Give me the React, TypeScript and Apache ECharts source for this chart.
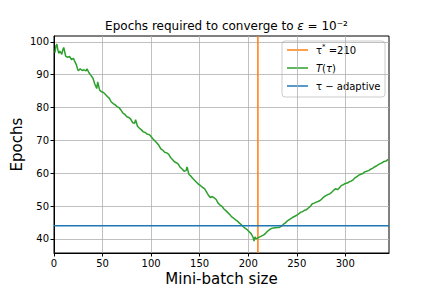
import React, { useEffect, useRef } from "react";
import * as echarts from "echarts";

const tau: number[] = [
  1, 2, 3, 4, 5, 6, 7, 8, 9, 10, 11, 12, 14, 16, 18, 20, 21, 23, 24, 25, 27, 29, 31, 33, 34, 36, 38, 40, 42, 44, 45, 47, 49,
  51, 53, 55, 57, 59, 61, 63, 65, 67, 69, 71, 73, 75, 77, 79, 81, 83, 84, 86, 88, 90, 92, 94, 96, 98, 100,
  102, 104, 106, 108, 110, 112, 114, 116, 118, 120, 122, 124, 126, 128, 130, 132, 134, 136, 137, 139, 141, 143, 145, 147, 149,
  151, 153, 155, 157, 159, 161, 163, 165, 167, 169, 171, 173, 175, 177, 179, 181, 183, 185, 187, 189, 191, 193, 195, 197, 199,
  201, 203, 205, 206, 207, 208, 210, 212, 214, 216, 218, 220, 222, 224, 226, 228, 230, 232, 234, 236, 238, 240, 242, 244, 246, 248,
  250, 252, 254, 256, 258, 260, 262, 264, 266, 268, 270, 272, 274, 276, 278, 280, 282, 284, 286, 288, 290, 292, 294, 296, 298,
  300, 302, 304, 306, 308, 310, 312, 314, 316, 318, 320, 322, 324, 326, 328, 330, 332, 334, 336, 338, 340, 342, 344,
];
const epochs: number[] = [
  96.7, 98.8, 99.3, 97.5, 96.5, 97.2, 96.8, 96.2, 97.5, 98.3, 97.0, 95.7, 95.3, 95.6, 94.6, 95.0, 94.3, 93.1, 92.0, 91.2, 91.8, 91.3, 91.5, 91.2, 91.8, 90.6, 89.8, 89.0, 87.2, 85.8, 87.8, 85.3, 84.8,
  84.6, 84.0, 83.4, 82.8, 81.7, 81.2, 80.8, 80.3, 80.0, 79.2, 78.3, 77.9, 77.2, 77.0, 76.5, 75.4, 75.2, 76.3, 74.3, 73.7, 73.2, 72.6, 72.4, 71.9, 71.8, 71.2,
  70.4, 69.8, 69.2, 68.5, 67.4, 67.0, 66.4, 66.2, 65.8, 64.8, 64.2, 63.5, 63.2, 62.8, 61.8, 61.3, 60.6, 60.8, 61.9, 59.6, 59.1, 58.4, 57.8, 57.2, 56.6,
  56.2, 55.7, 55.3, 54.3, 53.3, 52.6, 52.9, 52.5, 52.0, 50.9, 50.3, 49.9, 49.1, 48.6, 48.0, 47.4, 46.7, 46.3, 45.8, 45.4, 44.8, 44.3, 43.7, 43.2, 42.8,
  42.2, 41.6, 40.5, 39.3, 40.6, 40.0, 40.3, 40.6, 40.9, 41.2, 41.7, 42.4, 42.8, 43.2, 43.3, 43.4, 43.5, 43.5, 43.8, 44.4, 44.8, 45.4, 45.8, 46.2, 46.6, 46.9,
  47.2, 47.6, 48.1, 48.3, 48.7, 48.9, 49.4, 49.9, 50.7, 50.9, 51.2, 51.4, 51.7, 52.2, 52.8, 53.2, 53.5, 53.7, 54.2, 54.8, 55.3, 55.0, 55.6, 56.3, 56.5,
  56.9, 57.0, 57.4, 57.6, 58.0, 58.6, 59.0, 59.4, 59.7, 59.9, 60.4, 60.6, 60.8, 61.2, 61.5, 61.9, 62.2, 62.6, 62.9, 63.2, 63.6, 63.7, 64.2,
];
const tauStar = 210;
const adaptiveEpochs = 44;
const xTicks: number[] = [0, 50, 100, 150, 200, 250, 300];
const yTicks: number[] = [40, 50, 60, 70, 80, 90, 100];
const xRange: number[] = [0, 345];
const yRange: number[] = [35.7, 101.8];

const FONT = "DejaVu Sans";
const ORANGE = "#ff7f0e";
const GREEN = "#2ca02c";
const BLUE = "#1f77b4";

export default function App() {
  const ref = useRef<HTMLDivElement>(null);
  useEffect(() => {
    if (!ref.current) return;
    const chart = echarts.init(ref.current, null, { renderer: "svg" });
    const legendRows = [
      { color: ORANGE, text: "{t|τ}{s|*}{t| =210}" },
      { color: GREEN, text: "{i|T}{t|(}{i|τ}{t|)}" },
      { color: BLUE, text: "{t|τ − adaptive}" },
    ];
    const rich = {
      t: { fontFamily: FONT, fontSize: 10, color: "#000" },
      i: { fontFamily: FONT, fontSize: 10, fontStyle: "italic", color: "#000" },
      s: { fontFamily: FONT, fontSize: 7, color: "#000", padding: [0, 0, 6, 0] },
    };
    const rowY = [50, 68, 86];
    const legendChildren: any[] = [
      {
        type: "rect",
        shape: { x: 282, y: 41, width: 103, height: 56, r: 3 },
        style: { fill: "rgba(255,255,255,0.8)", stroke: "#cccccc", lineWidth: 1 },
      },
    ];
    legendRows.forEach((r, k) => {
      legendChildren.push({
        type: "line",
        shape: { x1: 287, y1: rowY[k], x2: 308, y2: rowY[k] },
        style: { stroke: r.color, lineWidth: 1.5 },
      });
      legendChildren.push({
        type: "text",
        x: 316,
        y: rowY[k],
        style: { text: r.text, rich, verticalAlign: "middle", align: "left" },
      });
    });

    chart.setOption({
      animation: false,
      backgroundColor: "#fff",
      title: {
        text: "Epochs required to converge to {i|ε} = 10⁻²",
        left: 221.5,
        textAlign: "center",
        top: 15,
        textStyle: {
          fontFamily: FONT,
          fontSize: 12,
          fontWeight: "normal",
          color: "#000",
          rich: { i: { fontFamily: FONT, fontSize: 12, fontStyle: "italic", color: "#000" } },
        },
      },
      grid: {
        left: 54,
        right: 43,
        top: 36,
        bottom: 35,
        outerBoundsMode: "none",
        containLabel: false,
        show: true,
        borderColor: "#000",
        borderWidth: 1,
        backgroundColor: "transparent",
      },
      xAxis: {
        type: "value",
        min: xRange[0],
        max: xRange[1],
        splitNumber: 7,
        name: "Mini-batch size",
        nameLocation: "middle",
        nameGap: 18,
        nameMoveOverlap: false,
        nameTextStyle: { fontFamily: FONT, fontSize: 15, color: "#000", lineHeight: 16 },
        axisLine: { show: true, lineStyle: { color: "#000", width: 1 } },
        axisTick: { show: true, inside: false, length: 3.5, lineStyle: { color: "#000" }, customValues: xTicks },
        axisLabel: { fontFamily: FONT, fontSize: 10, color: "#000", margin: 5, customValues: xTicks },
        splitLine: { show: true, lineStyle: { color: "#b0b0b0", width: 0.8 } },
      },
      yAxis: {
        type: "value",
        min: yRange[0],
        max: yRange[1],
        splitNumber: 7,
        name: "Epochs",
        nameLocation: "middle",
        nameGap: 30,
        nameMoveOverlap: false,
        nameTextStyle: { fontFamily: FONT, fontSize: 15, color: "#000" },
        axisLine: { show: true, lineStyle: { color: "#000", width: 1 } },
        axisTick: { show: true, inside: false, length: 3.5, lineStyle: { color: "#000" }, customValues: yTicks },
        axisLabel: { fontFamily: FONT, fontSize: 10, color: "#000", margin: 5, customValues: yTicks },
        splitLine: { show: true, lineStyle: { color: "#b0b0b0", width: 0.8 } },
      },
      series: [
        {
          name: "tauStar",
          type: "line",
          data: [
            [tauStar, yRange[0]],
            [tauStar, yRange[1]],
          ],
          symbol: "none",
          lineStyle: { color: ORANGE, width: 1.5 },
          z: 2,
        },
        {
          name: "T",
          type: "line",
          data: tau.map((t, k) => [t, epochs[k]]),
          symbol: "none",
          lineStyle: { color: GREEN, width: 1.5 },
          z: 3,
        },
        {
          name: "adaptive",
          type: "line",
          data: [
            [xRange[0], adaptiveEpochs],
            [xRange[1], adaptiveEpochs],
          ],
          symbol: "none",
          lineStyle: { color: BLUE, width: 1.5 },
          z: 4,
        },
      ],
      graphic: [{ type: "group", z: 100, children: legendChildren }],
    });
    return () => chart.dispose();
  }, []);
  return <div ref={ref} style={{ width: 432, height: 288, position: "absolute", left: 0, top: 0 }} />;
}
